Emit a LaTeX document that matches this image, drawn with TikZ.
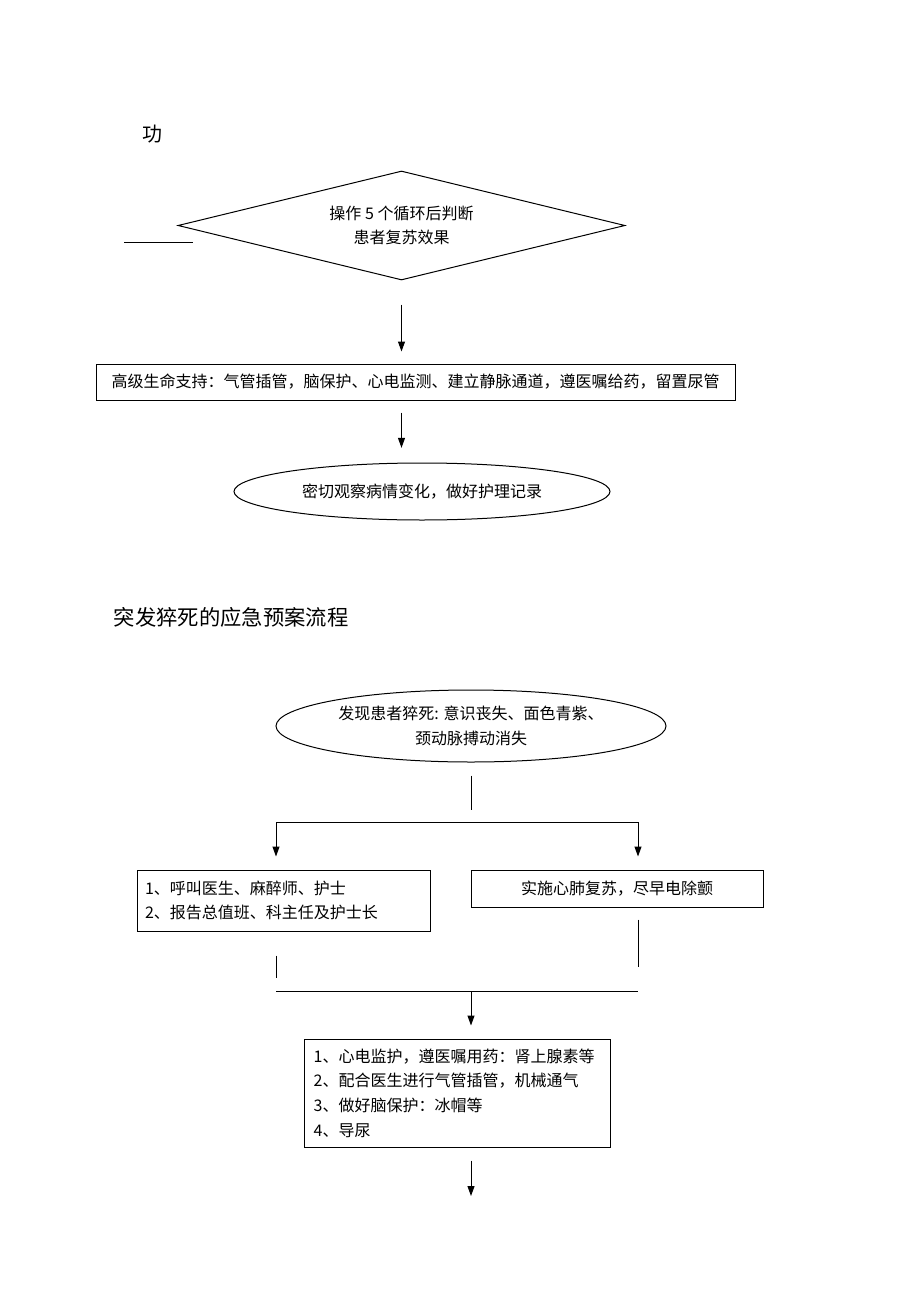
\documentclass[tikz,border=0pt]{standalone}
\usepackage{fontspec}
\setmainfont{Noto Sans CJK SC}
\usetikzlibrary{shapes.geometric,arrows.meta}
\begin{document}
\begin{tikzpicture}[x=0.75pt,y=-0.75pt, line width=0.75pt,
    txt/.style={font=\fontsize{12pt}{18.5pt}\selectfont},
    box/.style={draw, rectangle, inner sep=0pt, txt},
    oval/.style={draw, ellipse, inner sep=0pt, txt, align=center},
    flow/.style={->, >={Triangle[length=7.5pt,width=5.25pt]}}]
  \useasboundingbox (0,0) rectangle (920,1302);

  % upper part
  \node (gong) at (152,134) {\fontsize{15pt}{18pt}\selectfont 功};
  \coordinate (stubl) at (124,242); \coordinate (stubr) at (193,242);
  \draw (stubl) -- (stubr);
  \node [draw, diamond, aspect=4.1, minimum width=335.25pt, minimum
    height=81.75pt, inner sep=0pt, align=center, txt] (judge) at
    (401.5,225.5) {操作 5 个循环后判断\\患者复苏效果};
  \node [box, minimum width=479.25pt, minimum height=27pt] (adv) at
    (415.5,382) {高级生命支持：气管插管，脑保护、心电监测、建立静脉通道，遵医嘱给药，留置尿管};
  \node [oval, minimum width=282pt, minimum height=42.75pt] (rec) at
    (422,491.5) {密切观察病情变化，做好护理记录};

  \begin{scope}[flow]
    \draw [shorten <=18pt, shorten >=9pt] (judge.south) --
    (judge.south |- adv.north); \draw [shorten <=9pt, shorten
    >=11pt] (judge.south |- adv.south) -- (judge.south |- rec.north);
  \end{scope}

  % lower part
  \node [anchor=west] (title) at (109,617)
    {\fontsize{16pt}{19pt}\selectfont 突发猝死的应急预案流程};
  \node [oval, minimum width=292.5pt, minimum height=54pt] (find) at
    (471,726) {发现患者猝死: 意识丧失、面色青紫、\\颈动脉搏动消失};
  \node [box, align=left, text width=207.75pt, inner xsep=6pt,
    minimum height=45.75pt] (call) at (283.5,900.5)
    {1、呼叫医生、麻醉师、护士\\2、报告总值班、科主任及护士长};
  \node [box, minimum width=219pt, minimum height=27.75pt] (cpr) at
    (617,888.5) {实施心肺复苏，尽早电除颤};
  \node [box, align=left, text width=215pt, inner xsep=7.25pt,
    minimum height=81pt] (care) at (457,1093)
    {1、心电监护，遵医嘱用药：肾上腺素等\\2、配合医生进行气管插管，机械通气\\3、做好脑保护：冰帽等\\4、导尿};

  \coordinate (split) at (471,822); \coordinate (splitl) at
  (276,822); \coordinate (splitr) at (638,822);
  \coordinate (joinl) at (276,991); \coordinate (joinm) at
  (471,991); \coordinate (joinr) at (638,991);
  \coordinate (next) at (471,1196);

  \draw [shorten <=9.75pt, shorten >=9pt] (find.south) -- (split);
  \draw [{Triangle[length=7.5pt,width=5.25pt]}-{Triangle[length=7.5pt,width=5.25pt]},
    shorten <=9.75pt, shorten >=9.75pt] (splitl |- call.north) --
  (splitl) -- (splitr) -- (splitr |- cpr.north);
  \draw [shorten <=18pt, shorten >=9.75pt] (call.south -| joinl) --
  (joinl); \draw [shorten <=9pt, shorten >=18pt] (cpr.south -| joinr)
  -- (joinr); \draw (joinl) -- (joinr);
  \begin{scope}[flow]
    \draw [shorten >=9.75pt] (joinm) -- (joinm |- care.north); \draw
    [shorten <=9.75pt] (joinm |- care.south) -- (next);
  \end{scope}
\end{tikzpicture}
\end{document}
